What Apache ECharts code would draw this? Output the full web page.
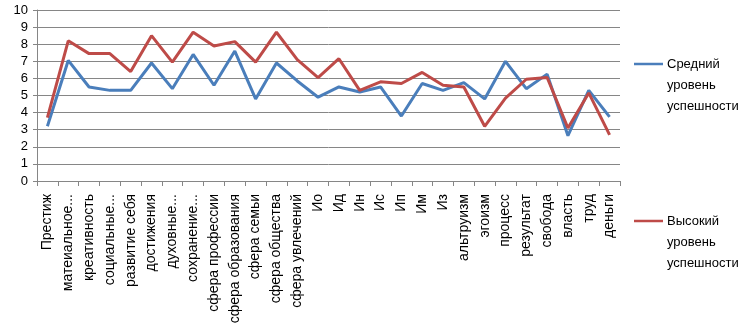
<!DOCTYPE html>
<html><head><meta charset="utf-8">
<script src="https://cdn.jsdelivr.net/npm/echarts@6/dist/echarts.min.js"></script>
<style>html,body{margin:0;padding:0;background:#fff}#c{width:744px;height:336px}</style>
</head><body><div id="c"></div>
<script>
const categories = ['Престиж','матеиальное...','креативность','социальные...','развитие себя','достижения','духовные...','сохранение...','сфера профессии','сфера образования','сфера семьи','сфера общества','сфера увлечений','Ио','Ид','Ин','Ис','Ип','Им','Из','альтруизм','эгоизм','процесс','результат','свобода','власть','труд','деньги'];
const medium = [3.2,7.05,5.5,5.3,5.3,6.9,5.4,7.4,5.6,7.6,4.8,6.9,5.85,4.9,5.5,5.2,5.5,3.8,5.7,5.3,5.75,4.8,7.0,5.4,6.25,2.65,5.3,3.75];
const high = [3.7,8.2,7.45,7.45,6.4,8.5,6.95,8.7,7.9,8.15,6.95,8.7,7.1,6.05,7.15,5.3,5.8,5.7,6.35,5.6,5.5,3.2,4.85,5.95,6.05,3.1,5.15,2.7];
const yTicks = [0,10,1];
const seriesNames = ['Средний уровень успешности','Высокий уровень успешности'];
const legendLines = [['Средний','уровень','успешности'],['Высокий','уровень','успешности']];
const colors = ['#4A7EBB','#BE4B48'];

const chart = echarts.init(document.getElementById('c'));
const legendTops = [64, 221];
const graphic = [];
legendLines.forEach((lines, i) => {
  graphic.push({type:'line', shape:{x1:634,y1:legendTops[i],x2:663,y2:legendTops[i]}, style:{stroke:colors[i], lineWidth:2.5}});
  graphic.push({type:'text', left:667, top:legendTops[i]-10.5, style:{text:lines.join('\n'), fill:'#000', font:'13px "Liberation Sans", Arial, sans-serif', lineHeight:21}});
});
chart.setOption({
  animation:false,
  grid:{left:37, right:124, top:10, bottom:155},
  xAxis:{type:'category', data:categories, boundaryGap:true,
    axisLine:{lineStyle:{color:'#868686'}},
    axisTick:{show:true, length:5, lineStyle:{color:'#868686'}, alignWithLabel:false},
    axisLabel:{rotate:90, interval:0, margin:13, color:'#000', fontSize:14, fontFamily:'"Liberation Sans", Arial, sans-serif'}},
  yAxis:{type:'value', min:yTicks[0], max:yTicks[1], interval:yTicks[2],
    axisLine:{show:true, lineStyle:{color:'#868686'}},
    axisTick:{show:true, length:4, lineStyle:{color:'#868686'}},
    splitLine:{lineStyle:{color:'#868686'}},
    axisLabel:{margin:9, color:'#000', fontSize:13, fontFamily:'"Liberation Sans", Arial, sans-serif'}},
  graphic: graphic,
  series:[
    {name:seriesNames[0], type:'line', data:medium, symbol:'none', lineStyle:{color:colors[0], width:3}, itemStyle:{color:colors[0]}},
    {name:seriesNames[1], type:'line', data:high, symbol:'none', lineStyle:{color:colors[1], width:3}, itemStyle:{color:colors[1]}}
  ]
});
</script></body></html>
